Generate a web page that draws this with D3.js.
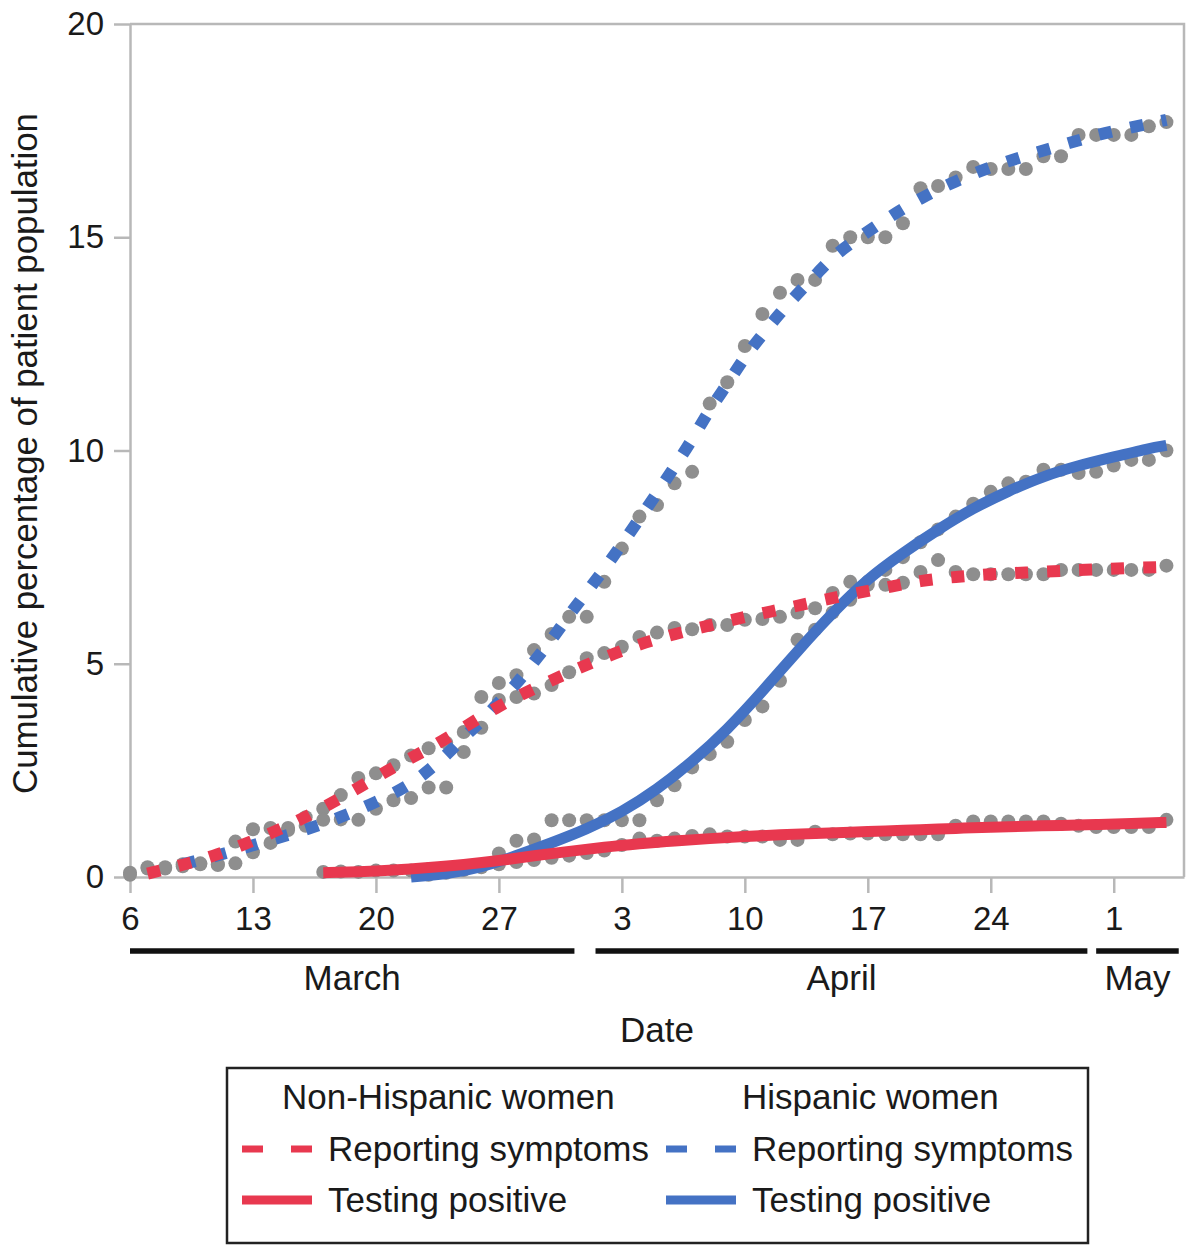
<!DOCTYPE html>
<html>
<head>
<meta charset="utf-8">
<script src="https://cdn.jsdelivr.net/npm/d3@7"></script>
<style>
  body { margin: 0; background: #fff; }
  text { font-family: "Liberation Sans", Arial, sans-serif; fill: #1a1a1a; }
</style>
</head>
<body>
<svg id="chart"></svg>
<script>
// daily observed values, first day = March 6 2020
const firstDay = "2020-03-06";

const nonHispSymptoms = [0.1, 0.23, 0.23, 0.3, 0.32, 0.3, 0.83, 1.12, 1.15, 1.15,
  1.4, 1.6, 1.92, 2.32, 2.43, 2.62, 2.85, 3.02, 3.15, 3.4,
  3.5, 4.15, 4.22, 4.3, 4.5, 4.8, 5.13, 5.25, 5.4, 5.63,
  5.73, 5.84, 5.81, 5.91, 5.91, 6.03, 6.05, 6.1, 6.2, 6.3,
  6.66, 6.92, 6.92, 6.85, 6.9, 7.15, 7.43, 7.15, 7.1, 7.1,
  7.1, 7.1, 7.1, 7.2, 7.2, 7.2, 7.2, 7.2, 7.2, 7.3];

const hispSymptoms = [0.05, 0.2, 0.2, 0.25, 0.3, 0.28, 0.32, 0.58, 0.8, 1.1,
  1.2, 1.34, 1.35, 1.34, 1.6, 1.8, 1.85, 2.1, 2.1, 2.93,
  4.22, 4.55, 4.73, 5.32, 5.7, 6.1, 6.1, 6.92, 7.7, 8.45,
  8.72, 9.23, 9.5, 11.1, 11.6, 12.45, 13.2, 13.7, 14.0, 14.0,
  14.8, 15.0, 15.0, 15.0, 15.33, 16.15, 16.2, 16.4, 16.65, 16.6,
  16.6, 16.6, 16.9, 16.9, 17.4, 17.4, 17.4, 17.4, 17.6, 17.7];

// testing positive series start later (day offset 11 and 17)
const nonHispPositiveStart = 11;
const nonHispPositive = [0.12, 0.13, 0.12, 0.15, 0.15, 0.15, 0.18, 0.17, 0.17,
  0.23, 0.3, 0.35, 0.4, 0.45, 0.5, 0.56, 0.62, 0.75, 0.9,
  0.85, 0.9, 0.96, 1.0, 0.95, 0.95, 0.95, 0.87, 0.87, 1.06,
  1.0, 1.02, 1.02, 1.0, 1.0, 1.0, 1.0, 1.2, 1.3, 1.3,
  1.3, 1.3, 1.3, 1.25, 1.2, 1.17, 1.17, 1.17, 1.17, 1.34];

const hispPositiveStart = 17;
const hispPositive = [0.05, 0.1, 0.17, 0.28, 0.55, 0.85, 0.88, 1.33, 1.33, 1.33,
  1.33, 1.33, 1.33, 1.8, 2.15, 2.57, 2.88, 3.17, 3.68, 4.0,
  4.6, 5.56, 5.8, 6.2, 6.5, 6.85, 7.2, 7.5, 7.85, 8.15,
  8.45, 8.75, 9.03, 9.23, 9.27, 9.55, 9.55, 9.47, 9.5, 9.65,
  9.78, 9.78, 10.0];

// smoothed curves: [day offset, value]
const nonHispSymptomsFit = [[1,0.08],[3,0.28],[5,0.52],[7,0.85],[9,1.2],[11,1.62],[13,2.09],
  [15,2.58],[17,3.0],[19,3.5],[21,4.02],[23,4.42],[25,4.8],[27,5.15],[29,5.46],[31,5.7],
  [33,5.9],[35,6.1],[37,6.27],[39,6.45],[41,6.63],[43,6.78],[45,6.95],[47,7.04],[49,7.1],
  [51,7.14],[53,7.18],[55,7.21],[57,7.25],[59,7.27]];

const hispSymptomsFit = [[3,0.3],[5,0.5],[8,0.87],[10,1.1],[12,1.4],[14,1.75],[16,2.17],
  [17,2.5],[18,2.85],[19,3.28],[20,3.65],[21,4.1],[22,4.52],[23,5.05],[24,5.56],[25,6.15],
  [26,6.68],[27,7.22],[28,7.8],[29,8.4],[30,9.0],[31,9.62],[32,10.25],[33,10.97],[34,11.55],
  [35,12.2],[36,12.72],[37,13.22],[38,13.68],[39,14.1],[40,14.54],[41,14.85],[43,15.42],
  [45,15.92],[47,16.32],[49,16.65],[51,16.92],[53,17.15],[55,17.4],[57,17.58],[59,17.75]];

const nonHispPositiveFit = [[11,0.1],[13,0.12],[15,0.16],[17,0.22],[19,0.29],[21,0.38],
  [23,0.5],[25,0.6],[27,0.7],[29,0.78],[31,0.85],[33,0.9],[35,0.95],[37,0.99],[39,1.02],
  [41,1.05],[43,1.08],[45,1.11],[47,1.14],[49,1.17],[51,1.19],[53,1.21],[55,1.23],
  [57,1.25],[59,1.28]];

const hispPositiveFit = [[16,0.0],[18,0.07],[20,0.22],[22,0.5],[24,0.8],[26,1.12],[28,1.52],
  [30,2.05],[32,2.7],[34,3.45],[36,4.35],[38,5.3],[40,6.2],[42,7.0],[44,7.6],[46,8.15],
  [48,8.65],[50,9.05],[52,9.4],[54,9.65],[56,9.85],[58,10.05],[59,10.12]];

const yTicks = [0, 5, 10, 15, 20];
const xTickDates = ["2020-03-06", "2020-03-13", "2020-03-20", "2020-03-27", "2020-04-03",
  "2020-04-10", "2020-04-17", "2020-04-24", "2020-05-01"];

// month bars, in day offsets from firstDay
const months = ["March", "April", "May"];
const monthFrom = [0, 26.5, 55.0];
const monthTo = [25.3, 54.5, 59.7];

const groups = ["Non-Hispanic women", "Hispanic women"];
const measures = ["Reporting symptoms", "Testing positive"];

const red = "#e8384f",
    blue = "#4472c4",
    dotGray = "#8e8e8e",
    axisGray = "#b8b8b8";

const svgWidth = 1200,
    svgHeight = 1253,
    plot = {left: 130, right: 1184, top: 24, bottom: 877};

const parseDay = d3.utcParse("%Y-%m-%d");
const start = parseDay(firstDay);
// fractional day offsets are allowed (month bars)
function dayOf(i) { return new Date(start.getTime() + i * 864e5); }

const chart = d3.select("#chart")
    .attr("width", svgWidth)
    .attr("height", svgHeight);

var xScale = d3.scaleUtc()
    .domain([start, dayOf(60)])
    .range([plot.left, plot.right]);
var yScale = d3.scaleLinear().domain([0, 20]).range([plot.bottom, plot.top]);

// frame
chart.append("path")
    .attr("d", "M" + plot.left + "," + plot.top + "H" + plot.right + "V" + plot.bottom)
    .attr("fill", "none")
    .attr("stroke", axisGray)
    .attr("stroke-width", 2.5);

var yAxis = chart.append("g")
    .attr("transform", "translate(" + plot.left + ",0)")
    .call(d3.axisLeft(yScale).tickValues(yTicks).tickSize(16).tickSizeOuter(0).tickPadding(10));

var xAxis = chart.append("g")
    .attr("transform", "translate(0," + plot.bottom + ")")
    .call(d3.axisBottom(xScale).tickValues(xTickDates.map(parseDay))
        .tickFormat(d3.utcFormat("%-d")).tickSize(16).tickSizeOuter(0).tickPadding(14));

[yAxis, xAxis].forEach(function(ax) {
    ax.selectAll("path, line").attr("stroke", axisGray).attr("stroke-width", 2.5);
    ax.selectAll("text").style("font-size", "33px").attr("fill", "#1a1a1a")
        .style("font-family", "'Liberation Sans', Arial, sans-serif");
});

// month bars under the day ticks
chart.append("g").selectAll("line")
    .data(months)
    .enter()
    .append("line")
    .attr("x1", function(d, i) { return xScale(dayOf(monthFrom[i])); })
    .attr("x2", function(d, i) { return xScale(dayOf(monthTo[i])); })
    .attr("y1", 951).attr("y2", 951)
    .attr("stroke", "#111")
    .attr("stroke-width", 5.5);

chart.append("g").selectAll("text")
    .data(months)
    .enter()
    .append("text")
    .attr("x", function(d, i) { return (xScale(dayOf(monthFrom[i])) + xScale(dayOf(monthTo[i]))) / 2; })
    .attr("y", 990)
    .attr("text-anchor", "middle")
    .style("font-size", "35px")
    .text(function(d) { return d; });

chart.append("text")
    .attr("x", (plot.left + plot.right) / 2)
    .attr("y", 1042)
    .attr("text-anchor", "middle")
    .style("font-size", "35px")
    .text("Date");

chart.append("text")
    .attr("transform", "translate(37," + ((plot.top + plot.bottom) / 2 + 3) + ") rotate(-90)")
    .attr("text-anchor", "middle")
    .style("font-size", "34.8px")
    .text("Cumulative percentage of patient population");

// observed points
function points(values, offset) {
    return values.map(function(v, i) { return {date: dayOf(offset + i), value: v}; });
}
function fitPoints(fit) {
    return fit.map(function(p) { return {date: dayOf(p[0]), value: p[1]}; });
}

var allDots = points(nonHispSymptoms, 0)
    .concat(points(hispSymptoms, 0))
    .concat(points(nonHispPositive, nonHispPositiveStart))
    .concat(points(hispPositive, hispPositiveStart));

chart.append("g").selectAll(".dot")
    .data(allDots)
    .enter()
    .append("circle")
    .attr("class", "dot")
    .attr("cx", function(d) { return xScale(d.date); })
    .attr("cy", function(d) { return yScale(d.value); })
    .attr("r", 7)
    .attr("fill", dotGray);

var valueline = d3.line()
    .x(function(d) { return xScale(d.date); })
    .y(function(d) { return yScale(d.value); })
    .curve(d3.curveBasis);

var fits = [
    {data: hispPositiveFit, color: blue, dash: null},
    {data: hispSymptomsFit, color: blue, dash: "13,19"},
    {data: nonHispPositiveFit, color: red, dash: null},
    {data: nonHispSymptomsFit, color: red, dash: "13,19"}
];

chart.append("g").selectAll("path")
    .data(fits)
    .enter()
    .append("path")
    .attr("d", function(d) { return valueline(fitPoints(d.data)); })
    .attr("fill", "none")
    .attr("stroke", function(d) { return d.color; })
    .attr("stroke-width", function(d) { return d.dash ? 12 : 11; })
    .attr("stroke-dasharray", function(d) { return d.dash; });

// legend
var legend = chart.append("g");
legend.append("rect")
    .attr("x", 227).attr("y", 1068)
    .attr("width", 861).attr("height", 175)
    .attr("fill", "none")
    .attr("stroke", "#222")
    .attr("stroke-width", 2.5);

var colX = [242, 666],
    colColor = [red, blue];

groups.forEach(function(g, i) {
    legend.append("text")
        .attr("x", [282, 742][i])
        .attr("y", 1109)
        .style("font-size", "35px")
        .text(g);
    measures.forEach(function(m, j) {
        var yy = 1149 + j * 51;
        legend.append("line")
            .attr("x1", colX[i]).attr("x2", colX[i] + 70)
            .attr("y1", yy).attr("y2", yy)
            .attr("stroke", colColor[i])
            .attr("stroke-width", j == 0 ? 7 : 9)
            .attr("stroke-dasharray", j == 0 ? "21,28" : null);
        legend.append("text")
            .attr("x", colX[i] + 86)
            .attr("y", yy + 12)
            .style("font-size", "35px")
            .text(m);
    });
});
</script>
</body>
</html>
